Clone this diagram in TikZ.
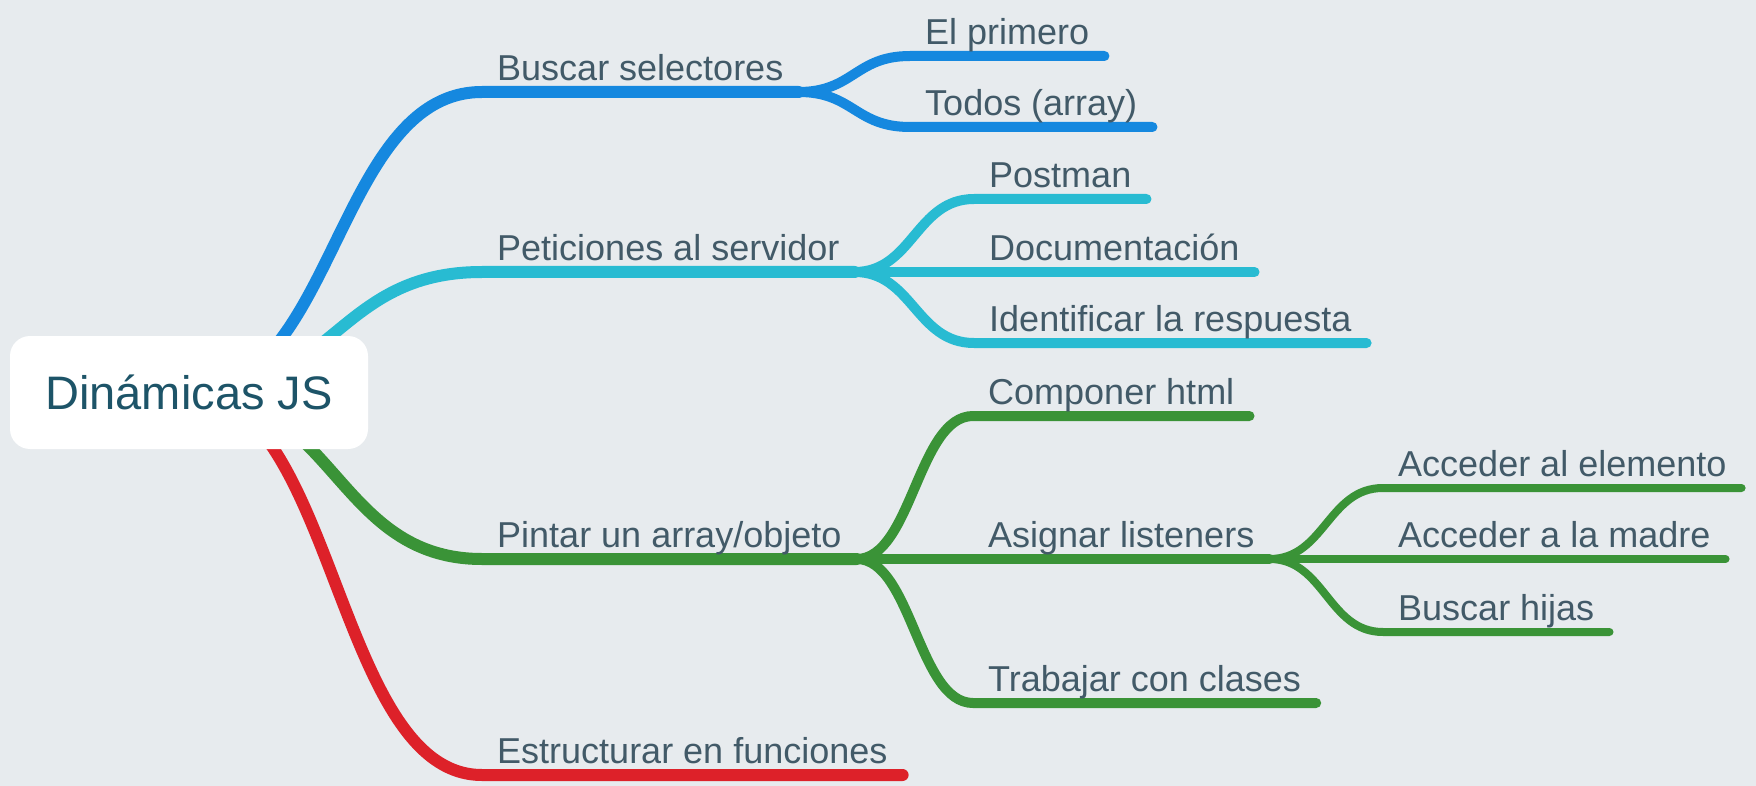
\documentclass[tikz,border=0pt]{standalone}
\usepackage{fontspec}
\setmainfont{Liberation Sans}
\usepackage{tikz}
\usetikzlibrary{calc,positioning}

\definecolor{bgmap}{HTML}{E7EBEE}
\definecolor{txtmap}{HTML}{425A68}
\definecolor{rootmap}{HTML}{1D5468}
\definecolor{bluemap}{HTML}{1588DF}
\definecolor{cyanmap}{HTML}{28BBD2}
\definecolor{greenmap}{HTML}{3A9337}
\definecolor{redmap}{HTML}{DD2129}

\pgfdeclarelayer{back}
\pgfdeclarelayer{links}
\pgfsetlayers{back,links,main}

\begin{document}
\begin{tikzpicture}[x=1pt,y=-1pt,
    topic/.style={anchor=south west, inner xsep=15pt, inner ysep=0pt, text depth=11.5pt, text=txtmap, font=\fontsize{36}{42}\selectfont},
    rootbox/.style={fill=white, rounded corners=20pt, minimum width=358pt, minimum height=113pt, inner sep=0pt, text=rootmap, font=\fontsize{47}{56}\selectfont},
    branch/.style={draw=#1, line width=12pt, line cap=round},
    twig/.style={draw=#1, line width=10pt, line cap=round},
    leaf/.style={draw=#1, line width=8pt, line cap=round}]
    \useasboundingbox (0,0) rectangle (1756,786);
    \begin{pgfonlayer}{back}
        \fill[bgmap] (0,0) rectangle (1756,786);
    \end{pgfonlayer}

    \node[rootbox] (root) at (189,392.5) {Dinámicas JS};

    \node[topic] (sel) at (482,92) {Buscar selectores};
    \node[topic] (pet) at (482,272) {Peticiones al servidor};
    \node[topic] (pin) at (482,559) {Pintar un array/objeto};
    \node[topic] (est) at (482,775) {Estructurar en funciones};

    \node[topic] (pri) at (910,56) {El primero};
    \node[topic] (tod) at (910,127) {Todos (array)};
    \node[topic] (pos) at (974,199) {Postman};
    \node[topic] (doc) at (974,272) {Documentación};
    \node[topic] (ide) at (974,343) {Identificar la respuesta};
    \node[topic] (com) at (973,416) {Componer html};
    \node[topic] (asi) at (973,559) {Asignar listeners};
    \node[topic] (tra) at (973,703) {Trabajar con clases};
    \node[topic] (ael) at (1383,488) {Acceder al elemento};
    \node[topic] (ama) at (1383,559) {Acceder a la madre};
    \node[topic] (hij) at (1383,632) {Buscar hijas};

    \begin{pgfonlayer}{links}
        \draw[branch=bluemap] (root.center) .. controls +(146,0) and +(-146,0) .. (sel.south west) -- (sel.south east);
        \draw[branch=cyanmap] (root.center) .. controls +(146,0) and +(-146,0) .. (pet.south west) -- (pet.south east);
        \draw[branch=greenmap] (root.center) .. controls +(146,0) and +(-146,0) .. (pin.south west) -- (pin.south east);
        \draw[branch=redmap] (root.center) .. controls +(146,0) and +(-146,0) .. (est.south west) -- (est.south east);
        \foreach \c in {pri,tod}
            \draw[twig=bluemap] (sel.south east) .. controls +(55,0) and +(-55,0) .. (\c.south west) -- (\c.south east);
        \foreach \c in {pos,doc,ide}
            \draw[twig=cyanmap] (pet.south east) .. controls +(58,0) and +(-58,0) .. (\c.south west) -- (\c.south east);
        \foreach \c in {com,asi,tra}
            \draw[twig=greenmap] (pin.south east) .. controls +(55,0) and +(-55,0) .. (\c.south west) -- (\c.south east);
        \foreach \c in {ael,ama,hij}
            \draw[leaf=greenmap] (asi.south east) .. controls +(55,0) and +(-55,0) .. (\c.south west) -- (\c.south east);
    \end{pgfonlayer}
\end{tikzpicture}
\end{document}
